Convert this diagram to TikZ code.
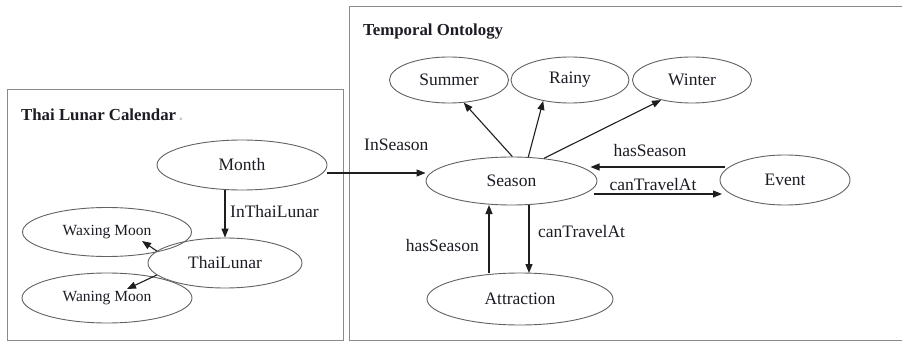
\documentclass[tikz,border=0pt]{standalone}
\usepackage{fontspec}
\setmainfont{Liberation Serif}
\usetikzlibrary{shapes.geometric,arrows.meta,calc}
\definecolor{ellgray}{HTML}{626262}
\definecolor{boxgray}{HTML}{8A8A8A}
\definecolor{arrc}{HTML}{1E1E1E}
\definecolor{txt}{HTML}{1C1C24}
\begin{document}
\begin{tikzpicture}[x=1pt,y=-1pt,
  ell/.style={ellipse, draw=ellgray, line width=0.9pt, inner sep=0pt, font=\fontsize{17.5}{20}\selectfont, text=txt},
  smallell/.style={ell, font=\fontsize{15.5}{18}\selectfont},
  arr/.style={draw=arrc, line width=1.1pt, -{Triangle[length=9pt,width=7pt]}},
  lbl/.style={font=\fontsize{17.5}{20}\selectfont, text=txt, inner sep=0pt},
  ttl/.style={font=\fontsize{16.8}{20}\selectfont\bfseries, text=txt, inner sep=0pt},
  frame/.style={draw=boxgray, line width=1pt}]
\useasboundingbox (0,0) rectangle (902,342);
\fill[white] (0,0) rectangle (902,342);

% frames
\draw[frame] (7,90) rectangle (343,340.5);
\draw[frame] (902,7) -- (349,7) -- (349,340.5) -- (902,340.5);

% titles
\node[ttl, anchor=west] (t1) at (21,115) {Thai Lunar Calendar\,\textcolor{gray!45}{.}};
\node[ttl, anchor=west] (t2) at (363,32) {Temporal Ontology};

% left nodes
\node[ell, minimum width=170pt, minimum height=50pt] (month) at (242,165) {Month};
\node[ell, minimum width=154pt, minimum height=50pt] (thai) at (225,263) {ThaiLunar};
\node[smallell, minimum width=169pt, minimum height=49pt] (waxing) at (107,232) {Waxing Moon};
\node[smallell, minimum width=170pt, minimum height=50pt] (waning) at (107,298) {Waning Moon};

% right nodes
\node[ell, minimum width=119pt, minimum height=46pt] (summer) at (449,80) {Summer};
\node[ell, minimum width=118pt, minimum height=46pt] (rainy) at (570,80) {Rainy};
\node[ell, minimum width=119pt, minimum height=46pt] (winter) at (692,80) {Winter};
\node[ell, minimum width=171pt, minimum height=48pt] (season) at (511.5,181) {Season};
\node[ell, minimum width=130pt, minimum height=50pt] (event) at (785,180) {Event};
\node[ell, minimum width=186pt, minimum height=52pt] (attraction) at (520,299) {Attraction};

% left connectors
\draw[arr] (thai.north |- month.south) -- (thai.north);
\draw[arr] (thai.170) -- ($(waxing.center)+(35,9)$);
\draw[arr] (thai.190) -- ($(waning.center)+(20,-9)$);
\node[lbl, anchor=west] (linthai) at (230,212) {InThaiLunar};

% month to season
\draw[arr] ([yshift=-8pt]month.east) -- ([yshift=8pt]season.west);
\node[lbl, anchor=west] (linseason) at (364,145) {InSeason};

% season to seasons
\draw[arr] (season.88) -- (summer.303);
\draw[arr] (season.55) -- (rainy.218);
\draw[arr] (season.35) -- (winter.213);

% event <-> season
\draw[arr] ($(event.center)+(-60,-13)$) -- ($(season.center)+(79,-14)$);
\node[lbl] (lhas1) at (650,151) {hasSeason};
\draw[arr] ($(season.center)+(82,13)$) -- ($(event.center)+(-63,14)$);
\node[lbl] (lcan1) at (653,185) {canTravelAt};

% attraction <-> season
\draw[arr] ($(season.center)+(17.5,24)$) -- ($(attraction.center)+(9,-26)$);
\node[lbl, anchor=west] (lcan2) at (538,232) {canTravelAt};
\draw[arr] ($(attraction.center)+(-31,-26)$) -- ($(season.center)+(-22.5,24)$);
\node[lbl, anchor=east] (lhas2) at (479,246) {hasSeason};
\end{tikzpicture}
\end{document}
